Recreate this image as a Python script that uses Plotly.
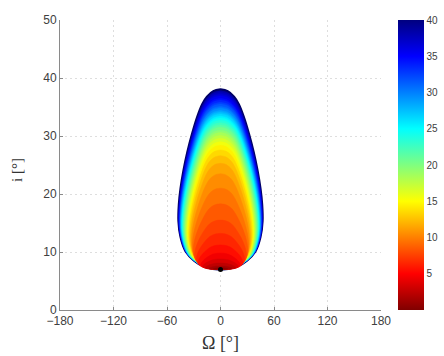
import plotly.graph_objects as go
from plotly.colors import sample_colorscale

# Contour levels (value shown on colour bar) with the top inclination and
# maximum half-width (in Omega) of each closed curve.
levels = list(range(1, 41))
top_i = [7.3, 7.6, 8.1, 8.8, 9.8, 11.2, 13.2, 15.5, 18.3, 21.0,
         23.5, 25.3, 26.6, 27.6, 28.4, 29.0, 29.6, 30.1, 30.6, 31.0,
         31.5, 31.9, 32.3, 32.7, 33.1, 33.4, 33.8, 34.1, 34.4, 34.8,
         35.1, 35.5, 35.8, 36.2, 36.5, 36.9, 37.2, 37.5, 37.8, 38.0]
half_w = [8, 13, 17, 20, 22, 25, 27, 29, 30.5, 31.5,
          32.5, 33.5, 34.5, 35.5, 36.3, 37.1, 37.9, 38.6, 39.3, 40,
          40.7, 41.3, 41.9, 42.4, 42.9, 43.3, 43.7, 44.1, 44.5, 44.8,
          45.1, 45.4, 45.7, 46.0, 46.3, 46.5, 46.7, 46.9, 47.0, 47.0]
bottom_i = 7.0          # common lowest point of all curves
# normalised outline of the outer curve (height fraction, width fraction)
profile_v = [0, 0.015, 0.05, 0.1, 0.18, 0.27, 0.36, 0.45, 0.55, 0.65, 0.75, 0.85, 0.92, 0.96, 0.99, 1.0]
profile_u = [0, 0.38, 0.63, 0.83, 0.95, 1.0, 0.99, 0.95, 0.88, 0.79, 0.68, 0.55, 0.43, 0.32, 0.17, 0]

x_ticks = [-180, -120, -60, 0, 60, 120, 180]
y_ticks = [0, 10, 20, 30, 40, 50]
cb_ticks = [5, 10, 15, 20, 25, 30, 35, 40]

cscale = [[0, 'rgb(128,0,0)'], [0.125, 'rgb(255,0,0)'], [0.375, 'rgb(255,255,0)'],
          [0.625, 'rgb(0,255,255)'], [0.875, 'rgb(0,0,255)'], [1, 'rgb(0,0,128)']]

fig = go.Figure()

for k in range(len(levels) - 1, -1, -1):
    L, T, W = levels[k], top_i[k], half_w[k]
    xs = [W * u for u in profile_u] + [-W * u for u in profile_u[::-1]]
    ys = [bottom_i + v * (T - bottom_i) for v in profile_v] + \
         [bottom_i + v * (T - bottom_i) for v in profile_v[::-1]]
    col = sample_colorscale(cscale, [max(L - 0.5, 0) / 40])[0]
    if L == 40:
        line = dict(color='rgb(0,0,100)', width=2.5, shape='spline', smoothing=1)
    else:
        line = dict(color=col, width=0.5, shape='spline', smoothing=1)
    fig.add_trace(go.Scatter(x=xs, y=ys, mode='lines', fill='toself', fillcolor=col,
                             line=line, hoverinfo='skip', showlegend=False))

# bottom point
fig.add_trace(go.Scatter(x=[0], y=[bottom_i], mode='markers',
                         marker=dict(color='black', size=5), showlegend=False))

# colour bar
fig.add_trace(go.Scatter(x=[0], y=[bottom_i], mode='markers', showlegend=False,
                         marker=dict(size=0.1, color=[0], cmin=0, cmax=40, colorscale=cscale,
                                     showscale=True,
                                     colorbar=dict(x=1.053, xanchor='left', xref='paper',
                                                   y=0.5, yanchor='middle', len=1.0, lenmode='fraction',
                                                   thickness=26, thicknessmode='pixels',
                                                   outlinewidth=0, tickvals=cb_ticks,
                                                   ticks='', ticklabelposition='outside',
                                                   tickfont=dict(family='Liberation Sans', size=10, color='#404040'),
                                                   xpad=0, ypad=0))))

axis_common = dict(showgrid=True, gridcolor='#dedede', griddash='2px,3px', gridwidth=1,
                   showline=True, linecolor='#8a8a8a', linewidth=1,
                   ticks='inside', ticklen=3, tickcolor='#8a8a8a',
                   tickfont=dict(family='Liberation Sans', size=12, color='#404040'),
                   zeroline=False, automargin=False)

fig.update_layout(
    width=444, height=356,
    margin=dict(l=60, r=63, t=20, b=46, autoexpand=False),
    paper_bgcolor='white', plot_bgcolor='white',
    xaxis=dict(range=[-180, 180], tickvals=x_ticks, **axis_common),
    yaxis=dict(range=[0, 50], tickvals=y_ticks, **axis_common),
    annotations=[
        dict(text='Ω [°]', x=0, xref='x', y=-0.114, yref='paper', showarrow=False,
             xanchor='center', yanchor='middle',
             font=dict(family='Liberation Serif', size=18, color='#333333')),
        dict(text='i [°]', x=-0.134, xref='paper', y=0.483, yref='paper', showarrow=False,
             xanchor='center', yanchor='middle', textangle=-90,
             font=dict(family='Liberation Serif', size=15, color='#333333')),
    ],
)

fig.write_html("out.html", config={'displayModeBar': False},
               post_script="document.body.style.margin='0';")
